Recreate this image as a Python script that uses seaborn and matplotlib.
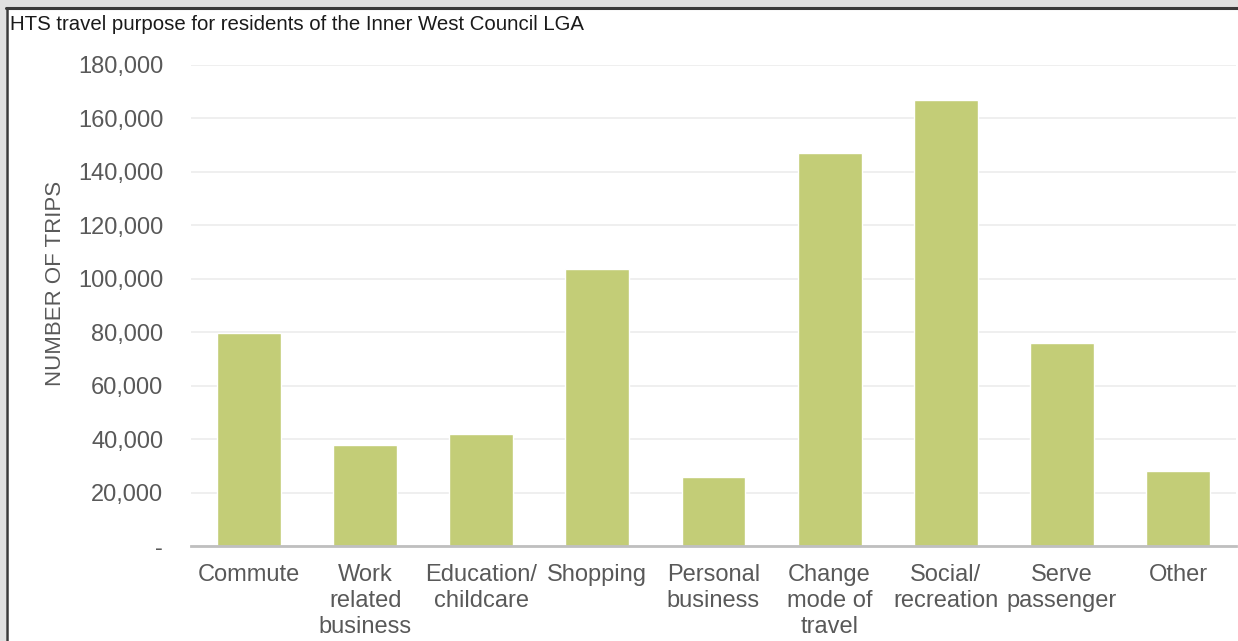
import matplotlib
matplotlib.use("Agg")
import matplotlib.pyplot as plt
import seaborn as sns
import pandas as pd
from matplotlib.ticker import FuncFormatter
from matplotlib.patches import Rectangle
from matplotlib.lines import Line2D

categories = ["Commute", "Work\nrelated\nbusiness", "Education/\nchildcare", "Shopping",
              "Personal\nbusiness", "Change\nmode of\ntravel", "Social/\nrecreation",
              "Serve\npassenger", "Other"]
trips = [79600, 37800, 41900, 103600, 25800, 147100, 166800, 76000, 28100]
y_ticks = [0, 20000, 40000, 60000, 80000, 100000, 120000, 140000, 160000, 180000]
title = "HTS travel purpose for residents of the Inner West Council LGA"
ylabel = "NUMBER OF TRIPS"

sns.set_style("white")
plt.rcParams["font.family"] = ["Liberation Sans", "DejaVu Sans"]

W, H = 1238, 641
fig = plt.figure(figsize=(W / 100, H / 100), dpi=100, facecolor="#e0e0e0")

# white panel with dark frame on top/left
fig.patches.append(Rectangle((6 / W, 0), 1, 1 - 8 / H, transform=fig.transFigure,
                             facecolor="white", edgecolor="none", zorder=-10))
fig.lines.append(Line2D([6 / W, 1], [1 - 7.5 / H, 1 - 7.5 / H], transform=fig.transFigure,
                        color="#3a3a3a", lw=2.2, zorder=-5))
fig.lines.append(Line2D([6.5 / W, 6.5 / W], [0, 1 - 7.5 / H], transform=fig.transFigure,
                        color="#3a3a3a", lw=1.8, zorder=-5))

ax = fig.add_axes([191 / W, 1 - 546 / H, (1236 - 191) / W, (546 - 65) / H])
ax.set_facecolor("none")
ax.set_zorder(5)

df = pd.DataFrame({"purpose": categories, "trips": trips})
sns.barplot(data=df, x="purpose", y="trips", color="#c3cd77", saturation=1,
            width=0.55, ax=ax, zorder=2)

ax.set_xlim(-0.5, len(categories) - 0.5)
ax.set_ylim(0, 180000)
ax.set_yticks(y_ticks)
ax.yaxis.set_major_formatter(FuncFormatter(lambda v, p: "-" if v == 0 else f"{int(v):,}"))
ax.set_axisbelow(True)
ax.grid(axis="y", color="#ececec", lw=1.2)
ax.grid(axis="x", visible=False)
for s in ["top", "right", "left"]:
    ax.spines[s].set_visible(False)
ax.spines["bottom"].set_color("#bfbfbf")
ax.spines["bottom"].set_linewidth(2)
ax.spines["bottom"].set_zorder(3)

ax.tick_params(axis="y", length=0, pad=20, labelsize=17, labelcolor="#595959")
ax.tick_params(axis="x", length=0, pad=13, labelsize=17, labelcolor="#595959")
for lbl in ax.get_xticklabels():
    lbl.set_linespacing(1.22)

ax.set_xlabel("")
ax.set_ylabel(ylabel, fontsize=16, color="#595959")
ax.yaxis.set_label_coords(-0.12, 0.545)

fig.text(10 / W, 1 - 25 / H, title, fontsize=14.7, color="#1a1a1a", va="center", ha="left")

fig.savefig("out.png", dpi=100, facecolor=fig.get_facecolor())
